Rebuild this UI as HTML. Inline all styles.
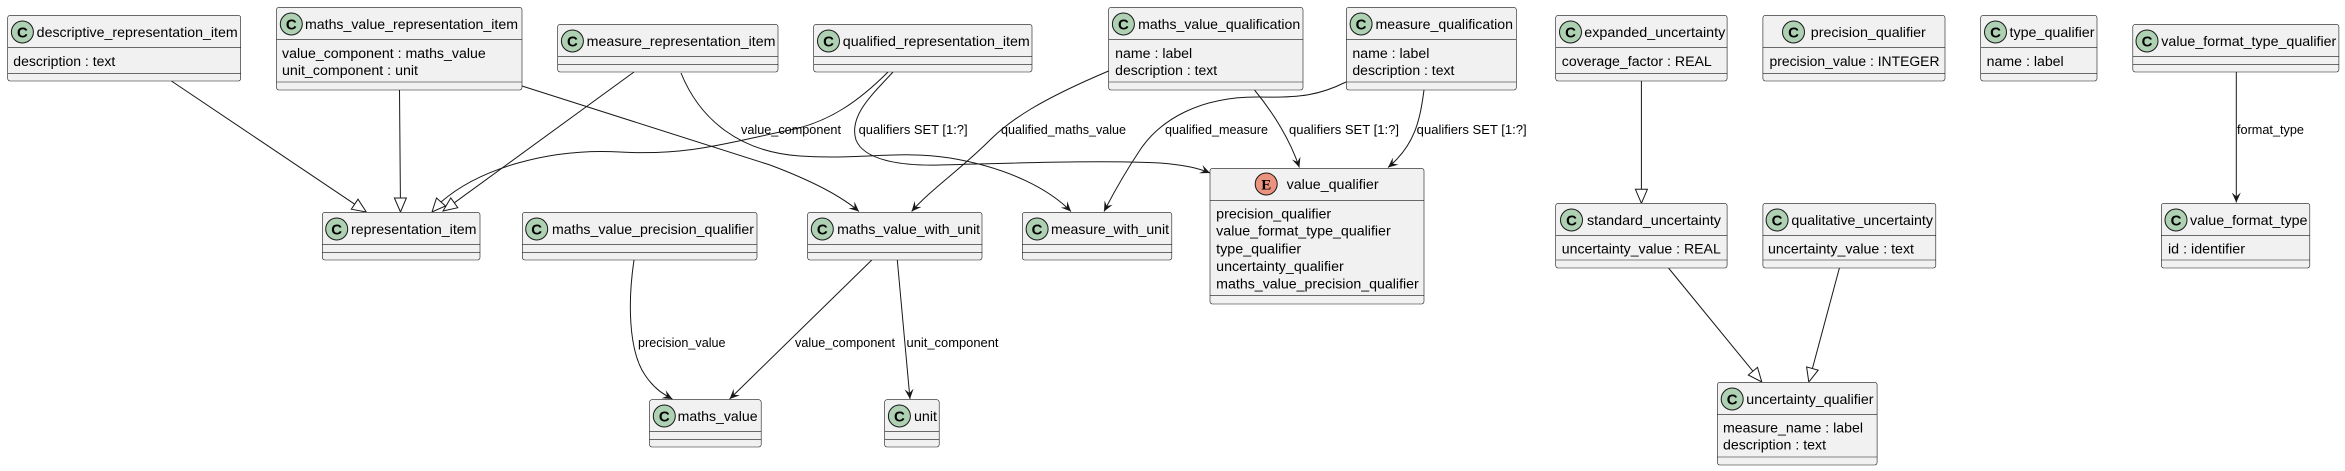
<!DOCTYPE html>
<html><head><meta charset="utf-8"><style>
html,body{margin:0;padding:0;background:#fff;}
svg{display:block;}
text{font-family:"Liberation Sans",sans-serif;fill:#000;}
.t{font-size:14px;}
.a{font-size:13.5px;}
.l{font-size:12.5px;}
.b{fill:#F1F1F1;stroke:#181818;stroke-width:0.6;}
.s{stroke:#181818;stroke-width:0.6;}
.c{fill:#ADD1B2;stroke:#181818;stroke-width:1;}
.e{fill:#EB937F;stroke:#181818;stroke-width:1;}
.ci{font-size:15px;font-weight:bold;text-anchor:middle;}
.ed{fill:none;stroke:#181818;stroke-width:1;}
.tri{fill:#fff;stroke:#181818;stroke-width:1;}
</style></head><body>
<svg width="2345" height="471" viewBox="0 0 2345 471" xmlns="http://www.w3.org/2000/svg">
<defs>
<marker id="ar" markerUnits="userSpaceOnUse" markerWidth="14" markerHeight="12" refX="0" refY="0" viewBox="-11 -6 12 12" orient="auto">
<path d="M0,0 L-10,-4.5 L-6,0 L-10,4.5 Z" fill="#181818"/>
</marker>
</defs>

<!-- edges -->
<path class="ed" d="M171.4 81 L354.7 204.2"/>
<polygon class="tri" points="366.3,212 351.3,209.2 358,199.2"/>
<path class="ed" d="M399.5 90 L400.4 198"/>
<polygon class="tri" points="400.5,212 394.4,198 406.4,198"/>
<path class="ed" d="M634 72 L454.3 202.8"/>
<polygon class="tri" points="443,211 450.8,197.9 457.8,207.7"/>
<path class="ed" d="M888 72 C860 100, 830 122, 790 130 C730 142, 690 156, 620 152 C550 148, 480 168, 441 202"/>
<polygon class="tri" points="432,212 436.5,198 445.5,206"/>
<path class="ed" marker-end="url(#ar)" d="M893 72 C875 92, 848 115, 856 140 C864 160, 900 166, 940 165 C1020 163, 1100 160, 1160 163 C1185 165, 1198 168, 1210 173"/>
<path class="ed" marker-end="url(#ar)" d="M522 86 L770 165 C810 180, 840 195, 859 211.5"/>
<path class="ed" marker-end="url(#ar)" d="M681 73 C700 120, 740 152, 800 156 C860 160, 900 150, 950 158 C1010 168, 1050 190, 1071 211.5"/>
<path class="ed" marker-end="url(#ar)" d="M1108.6 71 C1040 100, 1010 120, 990 140 C960 170, 930 190, 911.6 211.5"/>
<path class="ed" marker-end="url(#ar)" d="M1346 82 C1320 95, 1300 98, 1260 97 C1200 96, 1160 120, 1140 150 C1120 180, 1110 200, 1104 211.5"/>
<path class="ed" marker-end="url(#ar)" d="M1254.5 90 C1275 115, 1290 140, 1299.4 167.5"/>
<path class="ed" marker-end="url(#ar)" d="M1424 90 C1420 120, 1415 145, 1388 167.5"/>
<path class="ed" marker-end="url(#ar)" d="M871.8 260 L729.6 399"/>
<path class="ed" marker-end="url(#ar)" d="M897.3 260 L910 399"/>
<path class="ed" marker-end="url(#ar)" d="M634 260 C628 300, 628 350, 645 375 C655 390, 665 395, 672.4 399"/>
<path class="ed" marker-end="url(#ar)" d="M2236.3 72 L2236.3 202.5"/>
<path class="ed" d="M1641.4 81 L1641.4 189.3"/>
<polygon class="tri" points="1641.4,203.3 1635.4,189.3 1647.4,189.3"/>
<path class="ed" d="M1668.5 268 L1752.9 371.2"/>
<polygon class="tri" points="1761.8,382 1748.3,375 1757.5,367.4"/>
<path class="ed" d="M1839.4 268 L1812.4 368.5"/>
<polygon class="tri" points="1808.8,382 1806.6,366.9 1818.2,370.1"/>

<!-- edge labels -->
<text class="l" x="741" y="134" textLength="100" lengthAdjust="spacingAndGlyphs">value_component</text>
<text class="l" x="858.6" y="134" textLength="109" lengthAdjust="spacingAndGlyphs">qualifiers SET [1:?]</text>
<text class="l" x="1001" y="134" textLength="125" lengthAdjust="spacingAndGlyphs">qualified_maths_value</text>
<text class="l" x="1165" y="134" textLength="103" lengthAdjust="spacingAndGlyphs">qualified_measure</text>
<text class="l" x="1289" y="134" textLength="110" lengthAdjust="spacingAndGlyphs">qualifiers SET [1:?]</text>
<text class="l" x="1416.7" y="134" textLength="110" lengthAdjust="spacingAndGlyphs">qualifiers SET [1:?]</text>
<text class="l" x="2237" y="134" textLength="67" lengthAdjust="spacingAndGlyphs">format_type</text>
<text class="l" x="638" y="347" textLength="87.5" lengthAdjust="spacingAndGlyphs">precision_value</text>
<text class="l" x="795" y="347" textLength="100" lengthAdjust="spacingAndGlyphs">value_component</text>
<text class="l" x="906.5" y="347" textLength="92" lengthAdjust="spacingAndGlyphs">unit_component</text>

<!-- descriptive_representation_item -->
<rect class="b" x="7.7" y="15.3" width="233" height="65.7" rx="2.5"/>
<line class="s" x1="7.7" y1="47.3" x2="240.7" y2="47.3"/><line class="s" x1="7.7" y1="73.3" x2="240.7" y2="73.3"/>
<circle class="c" cx="22.4" cy="32" r="11"/><text class="ci" x="22.4" y="37.3">C</text>
<text class="t" x="36.7" y="37" textLength="201" lengthAdjust="spacingAndGlyphs">descriptive_representation_item</text>
<text class="a" x="13.3" y="66" textLength="102" lengthAdjust="spacingAndGlyphs">description : text</text>

<!-- maths_value_representation_item -->
<rect class="b" x="276.5" y="7.3" width="245.5" height="82.7" rx="2.5"/>
<line class="s" x1="276.5" y1="39.3" x2="522" y2="39.3"/><line class="s" x1="276.5" y1="82" x2="522" y2="82"/>
<circle class="c" cx="291.3" cy="24" r="11"/><text class="ci" x="291.3" y="29.3">C</text>
<text class="t" x="305" y="29" textLength="213" lengthAdjust="spacingAndGlyphs">maths_value_representation_item</text>
<text class="a" x="282" y="58" textLength="203.7" lengthAdjust="spacingAndGlyphs">value_component : maths_value</text>
<text class="a" x="282" y="75" textLength="136" lengthAdjust="spacingAndGlyphs">unit_component : unit</text>

<!-- measure_representation_item -->
<rect class="b" x="557.7" y="24.3" width="220.3" height="47.7" rx="2.5"/>
<line class="s" x1="557.7" y1="56.3" x2="778" y2="56.3"/><line class="s" x1="557.7" y1="64.3" x2="778" y2="64.3"/>
<circle class="c" cx="572.4" cy="41" r="11"/><text class="ci" x="572.4" y="46.3">C</text>
<text class="t" x="586.7" y="46" textLength="188.8" lengthAdjust="spacingAndGlyphs">measure_representation_item</text>

<!-- representation_item -->
<rect class="b" x="322.4" y="212.3" width="157.6" height="47.7" rx="2.5"/>
<line class="s" x1="322.4" y1="244.3" x2="480" y2="244.3"/><line class="s" x1="322.4" y1="252.3" x2="480" y2="252.3"/>
<circle class="c" cx="336.7" cy="229" r="11"/><text class="ci" x="336.7" y="234.3">C</text>
<text class="t" x="351" y="234" textLength="125.5" lengthAdjust="spacingAndGlyphs">representation_item</text>

<!-- maths_value_precision_qualifier -->
<rect class="b" x="522.4" y="212.3" width="234.6" height="47.7" rx="2.5"/>
<line class="s" x1="522.4" y1="244.3" x2="757" y2="244.3"/><line class="s" x1="522.4" y1="252.3" x2="757" y2="252.3"/>
<circle class="c" cx="536.7" cy="229" r="11"/><text class="ci" x="536.7" y="234.3">C</text>
<text class="t" x="552" y="234" textLength="202" lengthAdjust="spacingAndGlyphs">maths_value_precision_qualifier</text>

<!-- maths_value -->
<rect class="b" x="649.5" y="399.7" width="111.7" height="47.3" rx="2.5"/>
<line class="s" x1="649.5" y1="431.7" x2="761.2" y2="431.7"/><line class="s" x1="649.5" y1="439.7" x2="761.2" y2="439.7"/>
<circle class="c" cx="664.3" cy="416" r="11"/><text class="ci" x="664.3" y="421.3">C</text>
<text class="t" x="677.6" y="421" textLength="80" lengthAdjust="spacingAndGlyphs">maths_value</text>

<!-- qualified_representation_item -->
<rect class="b" x="813.7" y="24.3" width="218.3" height="47.7" rx="2.5"/>
<line class="s" x1="813.7" y1="56.3" x2="1032" y2="56.3"/><line class="s" x1="813.7" y1="64.3" x2="1032" y2="64.3"/>
<circle class="c" cx="828.5" cy="41" r="11"/><text class="ci" x="828.5" y="46.3">C</text>
<text class="t" x="842.8" y="46" textLength="187" lengthAdjust="spacingAndGlyphs">qualified_representation_item</text>

<!-- maths_value_qualification -->
<rect class="b" x="1108.6" y="7.3" width="194.4" height="82.7" rx="2.5"/>
<line class="s" x1="1108.6" y1="39.3" x2="1303" y2="39.3"/><line class="s" x1="1108.6" y1="82" x2="1303" y2="82"/>
<circle class="c" cx="1123.4" cy="24" r="11"/><text class="ci" x="1123.4" y="29.3">C</text>
<text class="t" x="1138.2" y="29" textLength="162" lengthAdjust="spacingAndGlyphs">maths_value_qualification</text>
<text class="a" x="1115.2" y="58" textLength="77" lengthAdjust="spacingAndGlyphs">name : label</text>
<text class="a" x="1115.2" y="75" textLength="102" lengthAdjust="spacingAndGlyphs">description : text</text>

<!-- measure_qualification -->
<rect class="b" x="1346.3" y="7.3" width="170" height="82.7" rx="2.5"/>
<line class="s" x1="1346.3" y1="39.3" x2="1516.3" y2="39.3"/><line class="s" x1="1346.3" y1="82" x2="1516.3" y2="82"/>
<circle class="c" cx="1361.1" cy="24" r="11"/><text class="ci" x="1361.1" y="29.3">C</text>
<text class="t" x="1375.5" y="29" textLength="137.5" lengthAdjust="spacingAndGlyphs">measure_qualification</text>
<text class="a" x="1352.4" y="58" textLength="77" lengthAdjust="spacingAndGlyphs">name : label</text>
<text class="a" x="1352.4" y="75" textLength="102" lengthAdjust="spacingAndGlyphs">description : text</text>

<!-- maths_value_with_unit -->
<rect class="b" x="807.6" y="212.3" width="174.4" height="47.7" rx="2.5"/>
<line class="s" x1="807.6" y1="244.3" x2="982" y2="244.3"/><line class="s" x1="807.6" y1="252.3" x2="982" y2="252.3"/>
<circle class="c" cx="822.3" cy="229" r="11"/><text class="ci" x="822.3" y="234.3">C</text>
<text class="t" x="837.1" y="234" textLength="143" lengthAdjust="spacingAndGlyphs">maths_value_with_unit</text>

<!-- measure_with_unit -->
<rect class="b" x="1022.3" y="212.3" width="149.5" height="47.7" rx="2.5"/>
<line class="s" x1="1022.3" y1="244.3" x2="1171.8" y2="244.3"/><line class="s" x1="1022.3" y1="252.3" x2="1171.8" y2="252.3"/>
<circle class="c" cx="1037.1" cy="229" r="11"/><text class="ci" x="1037.1" y="234.3">C</text>
<text class="t" x="1051" y="234" textLength="118" lengthAdjust="spacingAndGlyphs">measure_with_unit</text>

<!-- value_qualifier (enum) -->
<rect class="b" x="1210" y="168.3" width="214" height="135.7" rx="2.5"/>
<line class="s" x1="1210" y1="200.3" x2="1424" y2="200.3"/><line class="s" x1="1210" y1="295.7" x2="1424" y2="295.7"/>
<circle class="e" cx="1266.2" cy="184" r="11"/><text class="ci" x="1266.2" y="189.3" style="font-family:'Liberation Serif',serif">E</text>
<text class="t" x="1286.6" y="189" textLength="92" lengthAdjust="spacingAndGlyphs">value_qualifier</text>
<text class="a" x="1216.2" y="218.5" textLength="115" lengthAdjust="spacingAndGlyphs">precision_qualifier</text>
<text class="a" x="1216.2" y="235.5" textLength="174.5" lengthAdjust="spacingAndGlyphs">value_format_type_qualifier</text>
<text class="a" x="1216.2" y="253.5" textLength="85" lengthAdjust="spacingAndGlyphs">type_qualifier</text>
<text class="a" x="1216.2" y="270.8" textLength="127.6" lengthAdjust="spacingAndGlyphs">uncertainty_qualifier</text>
<text class="a" x="1216.2" y="288.5" textLength="202.6" lengthAdjust="spacingAndGlyphs">maths_value_precision_qualifier</text>

<!-- unit -->
<rect class="b" x="884.6" y="399.7" width="54.6" height="47.3" rx="2.5"/>
<line class="s" x1="884.6" y1="431.7" x2="939.2" y2="431.7"/><line class="s" x1="884.6" y1="439.7" x2="939.2" y2="439.7"/>
<circle class="c" cx="899.4" cy="416" r="11"/><text class="ci" x="899.4" y="421.3">C</text>
<text class="t" x="914" y="421" textLength="23" lengthAdjust="spacingAndGlyphs">unit</text>

<!-- expanded_uncertainty -->
<rect class="b" x="1555.7" y="15.3" width="171.4" height="65.7" rx="2.5"/>
<line class="s" x1="1555.7" y1="47.3" x2="1727.1" y2="47.3"/><line class="s" x1="1555.7" y1="73.3" x2="1727.1" y2="73.3"/>
<circle class="c" cx="1570.5" cy="32" r="11"/><text class="ci" x="1570.5" y="37.3">C</text>
<text class="t" x="1584.3" y="37" textLength="141" lengthAdjust="spacingAndGlyphs">expanded_uncertainty</text>
<text class="a" x="1561.8" y="66" textLength="150" lengthAdjust="spacingAndGlyphs">coverage_factor : REAL</text>

<!-- precision_qualifier -->
<rect class="b" x="1762.9" y="15.3" width="182.1" height="65.7" rx="2.5"/>
<line class="s" x1="1762.9" y1="47.3" x2="1945" y2="47.3"/><line class="s" x1="1762.9" y1="73.3" x2="1945" y2="73.3"/>
<circle class="c" cx="1793.5" cy="32" r="11"/><text class="ci" x="1793.5" y="37.3">C</text>
<text class="t" x="1810.8" y="37" textLength="115" lengthAdjust="spacingAndGlyphs">precision_qualifier</text>
<text class="a" x="1769.5" y="66" textLength="170" lengthAdjust="spacingAndGlyphs">precision_value : INTEGER</text>

<!-- type_qualifier -->
<rect class="b" x="1980.7" y="15.3" width="116.3" height="65.7" rx="2.5"/>
<line class="s" x1="1980.7" y1="47.3" x2="2097" y2="47.3"/><line class="s" x1="1980.7" y1="73.3" x2="2097" y2="73.3"/>
<circle class="c" cx="1995.5" cy="32" r="11"/><text class="ci" x="1995.5" y="37.3">C</text>
<text class="t" x="2009.5" y="37" textLength="85" lengthAdjust="spacingAndGlyphs">type_qualifier</text>
<text class="a" x="1986.7" y="66" textLength="77" lengthAdjust="spacingAndGlyphs">name : label</text>

<!-- value_format_type_qualifier -->
<rect class="b" x="2132.8" y="24.3" width="206.1" height="47.7" rx="2.5"/>
<line class="s" x1="2132.8" y1="56.3" x2="2338.9" y2="56.3"/><line class="s" x1="2132.8" y1="64.3" x2="2338.9" y2="64.3"/>
<circle class="c" cx="2147" cy="41" r="11"/><text class="ci" x="2147" y="46.3">C</text>
<text class="t" x="2161.3" y="46" textLength="175" lengthAdjust="spacingAndGlyphs">value_format_type_qualifier</text>

<!-- standard_uncertainty -->
<rect class="b" x="1555.7" y="203.3" width="171.4" height="64.7" rx="2.5"/>
<line class="s" x1="1555.7" y1="235.3" x2="1727.1" y2="235.3"/><line class="s" x1="1555.7" y1="260" x2="1727.1" y2="260"/>
<circle class="c" cx="1571.5" cy="220" r="11"/><text class="ci" x="1571.5" y="225.3">C</text>
<text class="t" x="1587" y="225" textLength="134" lengthAdjust="spacingAndGlyphs">standard_uncertainty</text>
<text class="a" x="1561.8" y="253.5" textLength="159" lengthAdjust="spacingAndGlyphs">uncertainty_value : REAL</text>

<!-- qualitative_uncertainty -->
<rect class="b" x="1762.9" y="203.3" width="172.9" height="64.7" rx="2.5"/>
<line class="s" x1="1762.9" y1="235.3" x2="1935.8" y2="235.3"/><line class="s" x1="1762.9" y1="260" x2="1935.8" y2="260"/>
<circle class="c" cx="1777.1" cy="220" r="11"/><text class="ci" x="1777.1" y="225.3">C</text>
<text class="t" x="1791.4" y="225" textLength="141.6" lengthAdjust="spacingAndGlyphs">qualitative_uncertainty</text>
<text class="a" x="1768" y="253.5" textLength="146" lengthAdjust="spacingAndGlyphs">uncertainty_value : text</text>

<!-- value_format_type -->
<rect class="b" x="2161.3" y="203.3" width="148.5" height="64.7" rx="2.5"/>
<line class="s" x1="2161.3" y1="235.3" x2="2309.8" y2="235.3"/><line class="s" x1="2161.3" y1="260" x2="2309.8" y2="260"/>
<circle class="c" cx="2176" cy="220" r="11"/><text class="ci" x="2176" y="225.3">C</text>
<text class="t" x="2190" y="225" textLength="117.5" lengthAdjust="spacingAndGlyphs">value_format_type</text>
<text class="a" x="2168" y="253.5" textLength="77" lengthAdjust="spacingAndGlyphs">id : identifier</text>

<!-- uncertainty_qualifier -->
<rect class="b" x="1717.4" y="382.3" width="159.7" height="82.7" rx="2.5"/>
<line class="s" x1="1717.4" y1="414.3" x2="1877.1" y2="414.3"/><line class="s" x1="1717.4" y1="457" x2="1877.1" y2="457"/>
<circle class="c" cx="1732.2" cy="399" r="11"/><text class="ci" x="1732.2" y="404.3">C</text>
<text class="t" x="1746.3" y="404" textLength="127.2" lengthAdjust="spacingAndGlyphs">uncertainty_qualifier</text>
<text class="a" x="1723" y="432.5" textLength="140" lengthAdjust="spacingAndGlyphs">measure_name : label</text>
<text class="a" x="1723" y="449.5" textLength="103" lengthAdjust="spacingAndGlyphs">description : text</text>
</svg>
</body></html>
